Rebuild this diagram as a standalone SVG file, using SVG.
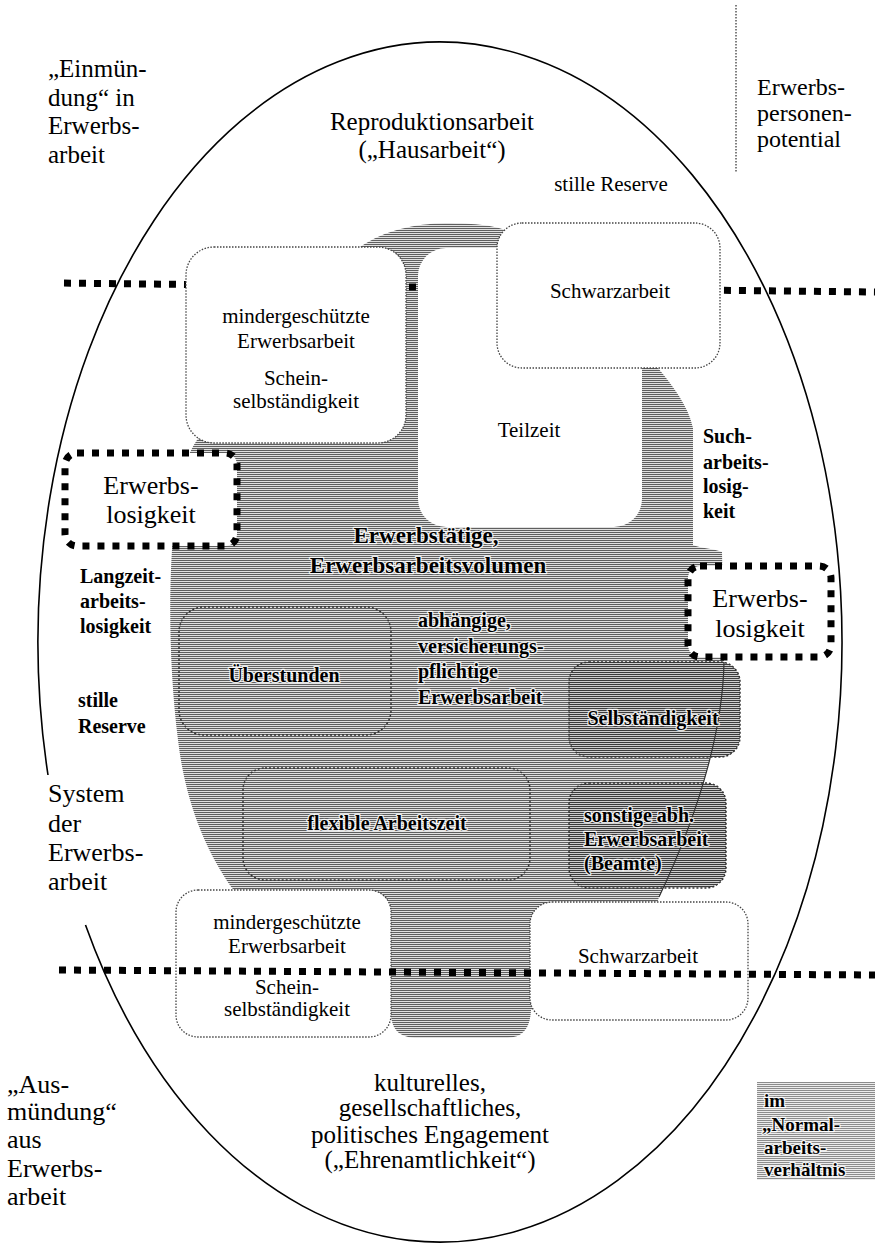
<svg xmlns="http://www.w3.org/2000/svg" width="875" height="1246" viewBox="0 0 875 1246">
<defs>
<pattern id="gray" width="4" height="2" patternUnits="userSpaceOnUse"><rect width="4" height="2" fill="#e0e0e0"/><rect width="4" height="1" fill="#5f5f5f"/></pattern>
<pattern id="dark" width="4" height="2" patternUnits="userSpaceOnUse"><rect width="4" height="2" fill="#cdcdcd"/><rect width="4" height="1" fill="#3c3c3c"/></pattern>
<pattern id="light" width="4" height="2" patternUnits="userSpaceOnUse"><rect width="4" height="2" fill="#ececec"/><rect width="4" height="1" fill="#8c8c8c"/></pattern>
<style>
.t{font-family:"Liberation Serif","Times New Roman",serif;fill:#000}
.b{font-weight:bold}
.m{text-anchor:middle}
.halo{paint-order:stroke;stroke:#fff;stroke-width:2.5;stroke-linejoin:round;stroke-opacity:0.85}
.wbox{fill:#fff;stroke:#444;stroke-width:1.3;stroke-dasharray:1.5 1.5}
.gbox{fill:none;stroke:#333;stroke-width:1.5;stroke-dasharray:2 2}
.ebox{fill:#fff;stroke:#000;stroke-width:7;stroke-dasharray:7 8}
.dline{fill:none;stroke:#000;stroke-width:7;stroke-dasharray:7 8}
</style>
</defs>
<rect width="875" height="1246" fill="#fff"/>

<g id="outline">
<path d="M48 775 A402 600 0 1 1 85.5 925" fill="none" stroke="#000" stroke-width="1.6"/>
<path d="M736 5 L736 172" fill="none" stroke="#555" stroke-width="1.5" stroke-dasharray="1.5 1.5"/>
</g>

<g id="erwerbstaetige-blob">
<path fill="url(#gray)" d="M360 247 C385 230 415 224 445 223 C475 223 498 226 510 232 L655 240 L658 368 C672 385 688 405 693 428 L693 545 C700 548 715 549 722 552 L724 660 C723 720 705 800 659 897 L640 960 L531 1010 C530 1030 522 1038 505 1038 L418 1038 C400 1038 392 1030 391 1015 L300 960 L232 888 C205 850 185 800 178 740 C168 660 168 570 176 505 C180 475 187 455 197 440 Z"/>
</g>

<g id="connectors">
<path class="dline" stroke-dashoffset="7" d="M56 283 L875 292"/>
</g>

<g id="ueberstunden"><rect class="gbox" x="179" y="607" width="212" height="128" rx="25"/></g>
<g id="selbstaendigkeit"><rect x="569" y="662" width="171" height="95" rx="20" fill="url(#dark)" stroke="#333" stroke-width="1.5" stroke-dasharray="2 2"/></g>
<g id="flexible"><rect class="gbox" x="243" y="768" width="287" height="112" rx="22"/></g>
<g id="sonstige"><rect x="569" y="783" width="157" height="105" rx="20" fill="url(#dark)" stroke="#333" stroke-width="1.5" stroke-dasharray="2 2"/></g>
<g id="blob-edge"><path d="M724 662 C723 720 705 800 659 897" fill="none" stroke="#333" stroke-width="1.2"/></g>

<g id="teilzeit"><rect x="418" y="248" width="224" height="279" rx="28" fill="#fff"/></g>
<g id="mindergeschuetzt-top"><rect class="wbox" x="186" y="247" width="220" height="196" rx="28"/></g>
<g id="schwarzarbeit-top"><rect class="wbox" x="497" y="223" width="223" height="145" rx="25"/></g>
<g id="erwerbslosigkeit-left"><rect class="ebox" x="65" y="453" width="172" height="93" rx="12"/></g>
<g id="erwerbslosigkeit-right"><rect class="ebox" x="688" y="566" width="143" height="91" rx="12"/></g>
<g id="mindergeschuetzt-bottom"><rect class="wbox" x="176" y="890" width="215" height="147" rx="22"/></g>
<g id="schwarzarbeit-bottom"><rect class="wbox" x="530" y="902" width="218" height="118" rx="22"/></g>

<g id="bottom-line"><path class="dline" d="M59 970 L875 975"/></g>

<g id="normalarbeitsverhaeltnis" font-family="Liberation Serif, Times New Roman, serif"><rect x="757" y="1082" width="118" height="98" fill="url(#light)"/>
<text class="t b halo" font-size="19" x="764" y="1107">im</text>
<text class="t b halo" font-size="19" x="762" y="1131">„Normal-</text>
<text class="t b halo" font-size="19" x="764" y="1154">arbeits-</text>
<text class="t b halo" font-size="19" x="764" y="1176">verhältnis</text>
</g>

<g id="labels" font-family="Liberation Serif, Times New Roman, serif">
<text class="t" font-size="25" x="48" y="77">„Einmün-</text>
<text class="t" font-size="25" x="48" y="106">dung“ in</text>
<text class="t" font-size="25" x="48" y="134">Erwerbs-</text>
<text class="t" font-size="25" x="48" y="163">arbeit</text>

<text class="t m" font-size="25" x="432" y="130">Reproduktionsarbeit</text>
<text class="t m" font-size="25" x="432" y="158">(„Hausarbeit“)</text>

<text class="t" font-size="24" x="757" y="95">Erwerbs-</text>
<text class="t" font-size="24" x="757" y="121">personen-</text>
<text class="t" font-size="24" x="757" y="147">potential</text>

<text class="t m" font-size="21" x="611" y="191">stille Reserve</text>

<text class="t m" font-size="21" x="296" y="323">mindergeschützte</text>
<text class="t m" font-size="21" x="296" y="348">Erwerbsarbeit</text>
<text class="t m" font-size="21" x="296" y="385">Schein-</text>
<text class="t m" font-size="21" x="296" y="408">selbständigkeit</text>

<text class="t m" font-size="21" x="610" y="298">Schwarzarbeit</text>
<text class="t m" font-size="21" x="529" y="437">Teilzeit</text>

<text class="t b" font-size="20" x="703" y="443">Such-</text>
<text class="t b" font-size="20" x="703" y="469">arbeits-</text>
<text class="t b" font-size="20" x="703" y="493">losig-</text>
<text class="t b" font-size="20" x="703" y="518">keit</text>

<text class="t m" font-size="26" x="151" y="494">Erwerbs-</text>
<text class="t m" font-size="26" x="151" y="523">losigkeit</text>
<text class="t m" font-size="26" x="760" y="607">Erwerbs-</text>
<text class="t m" font-size="26" x="760" y="637">losigkeit</text>

<text class="t b m halo" font-size="23" x="426" y="543">Erwerbstätige,</text>
<text class="t b m halo" font-size="23" x="428" y="573">Erwerbsarbeitsvolumen</text>

<text class="t b" font-size="20" x="80" y="583">Langzeit-</text>
<text class="t b" font-size="20" x="80" y="608">arbeits-</text>
<text class="t b" font-size="20" x="80" y="633">losigkeit</text>
<text class="t b" font-size="20" x="78" y="707">stille</text>
<text class="t b" font-size="20" x="78" y="733">Reserve</text>

<text class="t b m halo" font-size="20" x="284" y="682">Überstunden</text>
<text class="t b halo" font-size="20" x="418" y="627">abhängige,</text>
<text class="t b halo" font-size="20" x="418" y="653">versicherungs-</text>
<text class="t b halo" font-size="20" x="418" y="678">pflichtige</text>
<text class="t b halo" font-size="20" x="418" y="704">Erwerbsarbeit</text>
<text class="t b m halo" font-size="20" x="653" y="725">Selbständigkeit</text>
<text class="t b m halo" font-size="20" x="387" y="830">flexible Arbeitszeit</text>
<text class="t b halo" font-size="20" x="584" y="822">sonstige abh.</text>
<text class="t b halo" font-size="20" x="584" y="846">Erwerbsarbeit</text>
<text class="t b halo" font-size="20" x="584" y="870">(Beamte)</text>

<text class="t" font-size="26" x="48" y="802">System</text>
<text class="t" font-size="26" x="48" y="832">der</text>
<text class="t" font-size="26" x="48" y="861">Erwerbs-</text>
<text class="t" font-size="26" x="48" y="890">arbeit</text>

<text class="t m" font-size="21" x="287" y="929">mindergeschützte</text>
<text class="t m" font-size="21" x="287" y="953">Erwerbsarbeit</text>
<text class="t m" font-size="21" x="287" y="994">Schein-</text>
<text class="t m" font-size="21" x="287" y="1016">selbständigkeit</text>
<text class="t m" font-size="21" x="638" y="963">Schwarzarbeit</text>

<text class="t" font-size="26" x="7" y="1093">„Aus-</text>
<text class="t" font-size="26" x="7" y="1120">mündung“</text>
<text class="t" font-size="26" x="7" y="1148">aus</text>
<text class="t" font-size="26" x="7" y="1177">Erwerbs-</text>
<text class="t" font-size="26" x="7" y="1205">arbeit</text>

<text class="t m" font-size="25" x="430" y="1091">kulturelles,</text>
<text class="t m" font-size="25" x="430" y="1116">gesellschaftliches,</text>
<text class="t m" font-size="25" x="430" y="1143">politisches Engagement</text>
<text class="t m" font-size="25" x="430" y="1168">(„Ehrenamtlichkeit“)</text>
</g>
</svg>
